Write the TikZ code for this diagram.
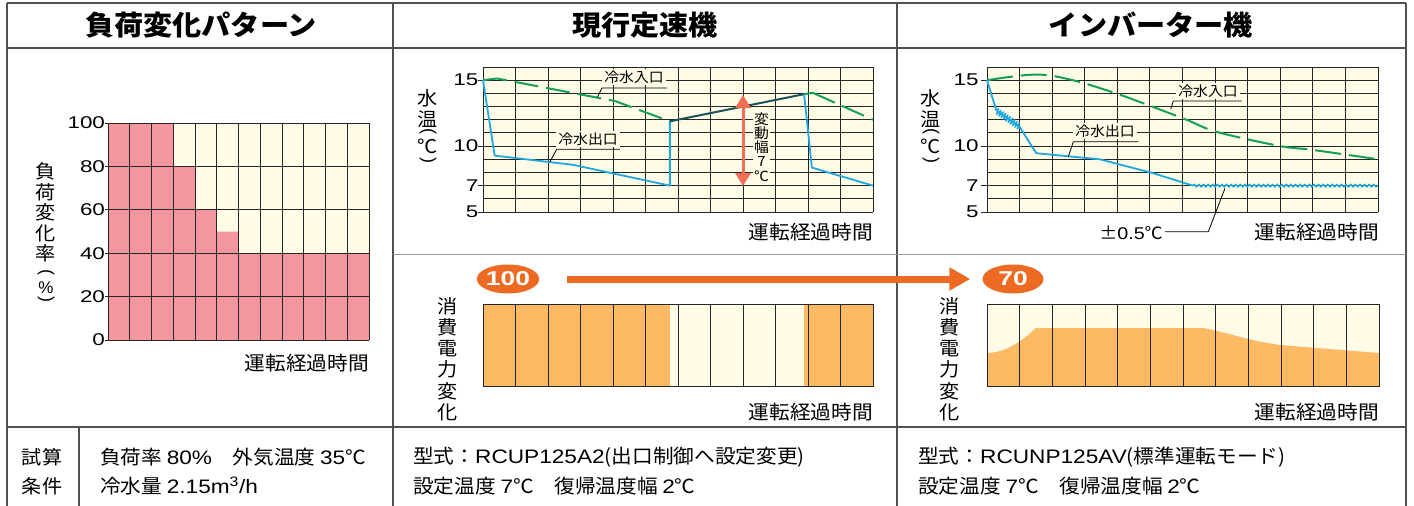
\documentclass[tikz,border=0pt]{standalone}
\usepackage{fontspec}
\setmainfont{Liberation Sans}
\newfontfamily\cjk[FakeStretch=1.06]{Noto Sans CJK JP}
\newfontfamily\num[FakeStretch=1.32]{Liberation Sans}
\newfontfamily\lat[FakeStretch=1.16]{Liberation Sans}
\usetikzlibrary{arrows.meta,decorations.pathmorphing,shapes.geometric}
\definecolor{cream}{RGB}{255,251,230}
\definecolor{pinkc}{RGB}{244,150,157}
\definecolor{orf}{RGB}{251,186,99}
\definecolor{ora}{RGB}{237,106,35}
\definecolor{redar}{RGB}{240,110,85}
\definecolor{bluel}{RGB}{30,168,226}
\definecolor{greenl}{RGB}{20,160,85}
\definecolor{ovl}{RGB}{25,85,90}
\definecolor{tbl}{RGB}{80,80,80}
\begin{document}
\begin{tikzpicture}[x=1pt,y=-1pt,
 gl/.style={line width=0.9pt, draw=black!85},
 tb/.style={line width=1.2pt, draw=tbl},
 lab/.style={font=\cjk\fontsize{19}{21}\selectfont, inner sep=0pt, align=center},
 nm/.style={font=\num\fontsize{17}{17}\selectfont, inner sep=0pt},
 clab/.style={font=\cjk\fontsize{14}{14}\selectfont, fill=cream, inner xsep=2pt, inner ysep=1.5pt},
 ldr/.style={line width=0.8pt, draw=black},
 hd/.style={font=\cjk\bfseries\fontsize{27.5}{27.5}\selectfont, inner sep=0pt},
 bt/.style={font=\cjk\fontsize{19.5}{19.5}\selectfont, inner sep=0pt, anchor=west},
 oval/.style={ellipse, fill=ora, text=white, minimum width=61pt, minimum height=29pt, inner sep=0pt, font=\num\bfseries\fontsize{20}{20}\selectfont},
 bl/.style={draw=bluel, line width=1.8pt, line join=round},
 gr/.style={draw=greenl, line width=2pt, line join=round},
 grd/.style={gr, dash pattern=on 24pt off 8pt},
 par/.style={font=\fontsize{18}{18}\selectfont, inner sep=0pt, rotate=-90},
 tl/.style={lab, anchor=east, font=\cjk\fontsize{19.5}{19.5}\selectfont},
]
\useasboundingbox (0,0) rectangle (1414,506);
\fill[white] (0,0) rectangle (1414,506);

% ---------- table ----------
\draw[tb] (7,3) -- (1406,3);
\draw[tb] (7,3) -- (7,506);
\draw[tb] (1406,3) -- (1406,506);
\draw[tb] (7,48) -- (1406,48);
\draw[tb] (393,3) -- (393,506);
\draw[tb] (897,3) -- (897,506);
\draw[line width=1pt, draw=black!40] (393,254) -- (1406,254);
\draw[tb] (7,427) -- (1406,427);
\draw[tb] (79,427) -- (79,506);

\node[hd] (h1) at (201,25) {負荷変化パターン};
\node[hd] (h2) at (645,25) {現行定速機};
\node[hd] (h3) at (1151,25) {インバーター機};

% ---------- left chart ----------
\begin{scope}[shift={(108,340)}, x=21.75pt, y=2.17pt]
 \fill[cream] (0,0) rectangle (12,100);
 \fill[pinkc] (0,0) -- (0,100) -- (3,100) -- (3,80) -- (4,80) -- (4,60) -- (5,60) -- (5,50) -- (6,50) -- (6,40) -- (12,40) -- (12,0) -- cycle;
 \foreach \i in {0,...,12} \draw[gl] (\i,0) -- (\i,100);
 \foreach \j in {0,20,...,100} {
   \draw[gl] (-0.14,\j) -- (12,\j);
   \node[nm, anchor=east] at (-0.13,\j) {\j};
 }
\end{scope}
\node[lab, font=\cjk\fontsize{19}{20.4}\selectfont] (lv) at (46,212.5) {負\\荷\\変\\化\\率};
\node[par] (lp1) at (46,272) {(};
\node[font=\fontsize{17}{17}\selectfont, inner sep=0pt] (lp2) at (46,288) {\%};
\node[par] (lp3) at (46,299) {)};
\node[tl] (lt) at (369,363) {運転経過時間};

% ---------- middle top chart ----------
\begin{scope}[shift={(483,277.9)}, x=32.5pt, y=13.18pt]
 \fill[cream] (0,5) rectangle (12,16);
 \foreach \i in {0,...,12} \draw[gl] (\i,5) -- (\i,16);
 \foreach \j in {5,...,16} \draw[gl] (0,\j) -- (12,\j);
 \foreach \t in {5,7,10,15} {
   \draw[gl] (-0.14,\t) -- (0,\t);
   \node[nm, anchor=east] at (-0.14,\t) {\t};
 }
 \draw[grd] (0,15) -- (0.43,15.13) -- (4.06,13.42) -- (5.75,11.88);
 \draw[gr] (9.88,13.94) -- (10.15,14.04);
 \draw[grd] (10.15,14.04) -- (12,12);
 \draw[bl] (0,15) -- (0.36,9.28) -- (2.78,8.575) -- (5.75,7) -- (5.75,11.88);
 \draw[draw=ovl, line width=2pt] (5.75,11.88) -- (9.88,13.94);
 \draw[bl] (9.88,13.94) -- (10.12,8.37) -- (12,7);
\end{scope}
\node[lab] (mv) at (428,108.5) {水\\温};
\node[par] (mp1) at (428,131) {(};
\node[lab] (mc) at (428,146) {℃};
\node[par] (mp3) at (428,160) {)};
\node[tl] (mt) at (873,232) {運転経過時間};

\node[clab] (inm) at (634,77) {冷水入口};
\coordinate (inm1) at (667,88);
\coordinate (inm2) at (602,88);
\coordinate (inm3) at (597.5,97);
\draw[ldr] (inm1) -- (inm2) -- (inm3);
\node[clab] (outm) at (588,139) {冷水出口};
\coordinate (outm1) at (620,149.3);
\coordinate (outm2) at (556.7,149.3);
\coordinate (outm3) at (550,161.7);
\draw[ldr] (outm1) -- (outm2) -- (outm3);

\coordinate (da1) at (743,95);
\coordinate (da2) at (743,186);
\draw[redar, line width=3pt, {Triangle[width=15pt,length=13pt]}-{Triangle[width=15pt,length=13pt]}] (da1) -- (da2);
\node[clab, font=\cjk\fontsize{14}{14.2}\selectfont, align=center, inner xsep=1pt, inner ysep=0.5pt] (hb) at (761.5,147) {変\\動\\幅\\7\\℃};

% ---------- right top chart ----------
\begin{scope}[shift={(987,277.9)}, x=32.58pt, y=13.18pt]
 \fill[cream] (0,5) rectangle (12,16);
 \foreach \i in {0,...,12} \draw[gl] (\i,5) -- (\i,16);
 \foreach \j in {5,...,16} \draw[gl] (0,\j) -- (12,\j);
 \foreach \t in {5,7,10,15} {
   \draw[gl] (-0.17,\t) -- (0,\t);
   \node[nm, anchor=east] at (-0.25,\t) {\t};
 }
 \draw[grd, dash pattern=on 26pt off 8pt] plot[smooth, tension=0.6] coordinates {(0,15) (1.41,15.42) (2.43,15.12) (3.97,13.99) (6.02,12.1) (7.04,11.09) (8.98,10.01) (10,9.71) (12,9.0)};
 \draw[bl] (0,15) -- (0.29,12.68);
 \draw[bl, line width=1.3pt, decorate, decoration={zigzag, segment length=2.8pt, amplitude=3pt}] (0.29,12.68) -- (1.0,11.47);
 \draw[bl] (1.0,11.47) -- (1.51,9.46) -- (3.46,9.0) -- (5.09,7.95) -- (6.32,7.0);
 \draw[bl, line width=1.4pt, decorate, decoration={snake, segment length=4.6pt, amplitude=1.4pt}] (6.32,7) -- (12,7);
\end{scope}
\node[lab] (rv) at (931,108.5) {水\\温};
\node[par] (rp1) at (931,131) {(};
\node[lab] (rc) at (931,146) {℃};
\node[par] (rp3) at (931,160) {)};
\node[tl] (rt) at (1379,232) {運転経過時間};

\node[clab] (inr) at (1208,90.7) {冷水入口};
\coordinate (inr1) at (1241.7,101);
\coordinate (inr2) at (1173.3,101);
\coordinate (inr3) at (1170.7,109.3);
\draw[ldr] (inr1) -- (inr2) -- (inr3);
\node[clab] (outr) at (1105,131) {冷水出口};
\coordinate (outr1) at (1138.3,141.7);
\coordinate (outr2) at (1073.3,141.7);
\coordinate (outr3) at (1068.3,156.7);
\draw[ldr] (outr1) -- (outr2) -- (outr3);
\node[font=\cjk\fontsize{17}{17}\selectfont, inner sep=0pt] (pm) at (1131,233) {±{\lat 0.5}℃};
\coordinate (pm1) at (1165,231.7);
\coordinate (pm2) at (1208.3,231.7);
\coordinate (pm3) at (1225,188.3);
\draw[ldr] (pm1) -- (pm2) -- (pm3);

% ---------- middle bottom chart ----------
\fill[orf] (483,304) rectangle (670,386);
\fill[cream] (670,304) rectangle (804,386);
\fill[orf] (804,304) rectangle (873,386);
\foreach \i in {0,...,12} \draw[gl] (483+32.5*\i,304) -- (483+32.5*\i,386);
\draw[gl] (483,304) rectangle (873,386);
\node[lab, font=\cjk\fontsize{19}{21.3}\selectfont] (mpw) at (448,359) {消\\費\\電\\力\\変\\化};
\node[tl] (mbt) at (873,412) {運転経過時間};

% ---------- right bottom chart ----------
\fill[cream] (987,304) rectangle (1379,386);
\fill[orf] (987,386) -- (987,353) .. controls (1005,352.5) and (1020,343) .. (1036,328) -- (1203,328) .. controls (1225,332) and (1250,341) .. (1280,345) -- (1379,353) -- (1379,386) -- cycle;
\foreach \i in {0,...,12} \draw[gl] (987+32.667*\i,304) -- (987+32.667*\i,386);
\draw[gl] (987,304) rectangle (1379,386);
\node[lab, font=\cjk\fontsize{19}{21.3}\selectfont] (rpw) at (950,359) {消\\費\\電\\力\\変\\化};
\node[tl] (rbt) at (1379,412) {運転経過時間};

% ---------- arrow and ovals ----------
\node[oval] (hundred) at (508,279) {100};
\node[oval] (seventy) at (1013,279) {70};
\draw[ora, line width=7pt, -{Triangle[width=22pt,length=21pt]}, shorten <=28pt, shorten >=12pt] (hundred) -- (seventy);

% ---------- bottom row ----------
\node[font=\cjk\fontsize{19}{19}\selectfont, inner sep=0pt] (c1) at (42,457) {試算};
\node[font=\cjk\fontsize{19}{19}\selectfont, inner sep=0pt] (c2) at (42,486) {条件};
\node[bt] (b1) at (100,457) {負荷率 {\lat 80\%}　外気温度 {\lat 35}℃};
\node[bt] (b2) at (100,486) {冷水量 {\lat 2.15m\textsuperscript{3}/h}};
\node[bt] (b3) at (413,457) {型式：{\lat RCUP125A2}(出口制御へ設定変更)};
\node[bt] (b4) at (413,486) {設定温度 {\lat 7}℃　復帰温度幅 {\lat 2}℃};
\node[bt] (b5) at (918,457) {型式：{\lat RCUNP125AV}(標準運転モード)};
\node[bt] (b6) at (918,486) {設定温度 {\lat 7}℃　復帰温度幅 {\lat 2}℃};
\end{tikzpicture}
\end{document}
